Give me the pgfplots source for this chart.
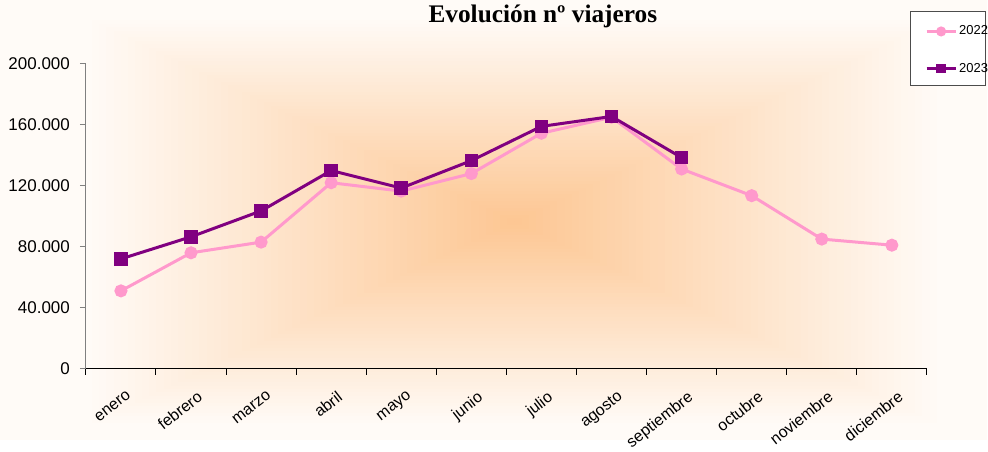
\documentclass[border=0pt]{standalone}
\usepackage{fontspec}
\setmainfont{Liberation Sans}
\newfontfamily\titlefont{Liberation Serif}
\usepackage{pgfplots}
\pgfplotsset{compat=1.18}
\definecolor{peach}{RGB}{253,198,146}
\definecolor{edgec}{RGB}{255,251,247}
\definecolor{pinkl}{RGB}{255,153,204}
\definecolor{purp}{RGB}{128,0,128}
\definecolor{axgray}{RGB}{128,128,128}
\begin{document}
\begin{tikzpicture}
\begin{scope}[x=0.75pt,y=0.75pt]
\useasboundingbox (0,0) rectangle (988,441);
\fill[edgec] (0,0) rectangle (988,441);
\foreach \i in {1,...,60}{
  \pgfmathsetmacro\f{1-\i/60}
  \pgfmathsetmacro\p{\i*100/60}
  \fill[peach!\p!edgec] ({515-430*\f},{219-205*\f}) rectangle ({515+430*\f},{219+205*\f});
}
\node[anchor=base, font=\titlefont\bfseries\fontsize{19}{22}\selectfont, inner sep=0pt] at (543.5,418) {Evolución nº viajeros};
\fill[white] (912,355) rectangle (986.5,429);
\draw[black!70, line width=0.75pt] (912,355) rectangle (986.5,429);
\end{scope}
\begin{axis}[
  at={(64.5pt,54pt)}, anchor=south west,
  scale only axis, width=631.5pt, height=228.75pt,
  xmin=-0.5, xmax=11.5, ymin=0, ymax=200000,
  axis x line*=bottom, axis y line*=left,
  x axis line style={black, line width=0.75pt, -},
  y axis line style={axgray, line width=0.75pt, -},
  tick align=outside,
  xtick={0,...,11},
  xticklabels={enero,febrero,marzo,abril,mayo,junio,julio,agosto,septiembre,octubre,noviembre,diciembre},
  major x tick style={draw=none},
  minor xtick={-0.5,0.5,...,11.5},
  minor x tick style={black, line width=0.75pt},
  minor tick length=4.5pt,
  ytick={0,40000,...,200000},
  major tick length=4.5pt,
  y tick style={axgray, line width=0.75pt},
  scaled y ticks=false,
  yticklabel style={/pgf/number format/fixed, /pgf/number format/1000 sep={.}, /pgf/number format/assume math mode=true},
  y tick label style={font=\fontsize{12.75}{14}\selectfont, xshift=-4pt},
  x tick label style={font=\fontsize{12}{14}\selectfont, rotate=38, anchor=north east, inner sep=0.5pt, yshift=-11pt, xshift=-3.5pt},
  legend style={draw=none, fill=none, at={(axis description cs:0.9976,1.1256)}, anchor=north west,
    inner sep=0pt, row sep=19.5pt, nodes={inner sep=0pt}, column sep=1.5pt, font=\fontsize{9.75}{11}\selectfont},
  legend cell align=left,
  legend image code/.code={\draw[mark repeat=2,mark phase=2,#1,mark size=2.6pt] plot coordinates {(0pt,0pt) (10.875pt,0pt) (21.75pt,0pt)};},
  clip=false,
]
\addplot[pinkl, line width=2.25pt, mark=*, mark size=3.75pt, mark options={solid, fill=pinkl, draw=pinkl}]
  coordinates {(0,51000) (1,76000) (2,83000) (3,122000) (4,116500) (5,128000) (6,154500) (7,165000) (8,131000) (9,113500) (10,85000) (11,81000)};
\addlegendentry{2022}
\addplot[purp, line width=2.25pt, mark=square*, mark size=4pt, mark options={solid, fill=purp, draw=purp}]
  coordinates {(0,72000) (1,86500) (2,103500) (3,130000) (4,118500) (5,136500) (6,159000) (7,165500) (8,138500)};
\addlegendentry{2023}
\end{axis}
\end{tikzpicture}
\end{document}
